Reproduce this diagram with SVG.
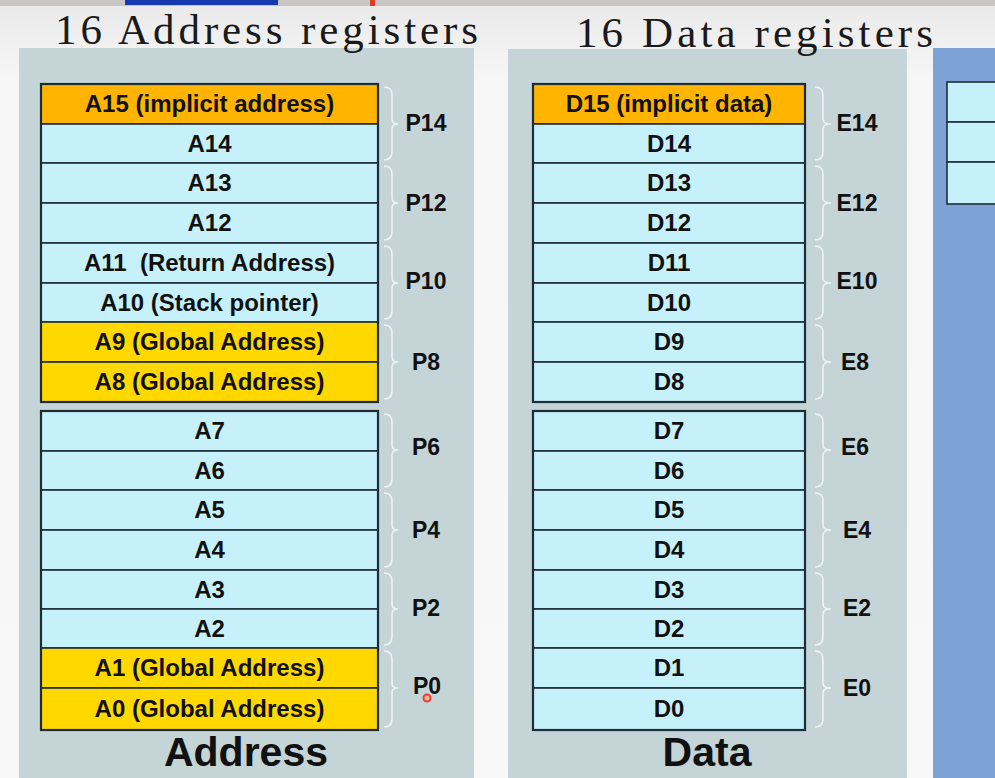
<svg xmlns="http://www.w3.org/2000/svg" width="995" height="778" viewBox="0 0 995 778">
<defs>
<linearGradient id="bg" x1="0" y1="0" x2="0" y2="1">
<stop offset="0" stop-color="#e9e9e9"/>
<stop offset="0.1" stop-color="#f6f6f6"/>
<stop offset="1" stop-color="#f8f8f8"/>
</linearGradient>
</defs>
<style>
.panel{fill:#c4d4d7}
.blue{fill:#7ea2d6}
.cy{fill:#c6f1fb;stroke:#1d2d36;stroke-width:1.6}
.or{fill:#ffb400;stroke:#1d2d36;stroke-width:1.6}
.ye{fill:#ffd800;stroke:#1d2d36;stroke-width:1.6}
.grp{fill:none;stroke:#1d2d36;stroke-width:2.2}
.lbl{font-family:"Liberation Sans",Arial,sans-serif;font-weight:bold;font-size:24px;fill:#111;text-anchor:middle;white-space:pre}
.pl{font-family:"Liberation Sans",Arial,sans-serif;font-weight:bold;font-size:23px;fill:#111;text-anchor:middle}
.big{font-family:"Liberation Sans",Arial,sans-serif;font-weight:bold;font-size:41px;fill:#111;text-anchor:middle}
.ttl{font-family:"Liberation Serif","Times New Roman",serif;font-size:43px;fill:#1a1a1a}
.br{fill:none;stroke:#eef3f4;stroke-width:1.6}
</style>
<rect x="0" y="0" width="995" height="778" fill="url(#bg)"/>
<rect x="0" y="0" width="995" height="6" fill="#c9c6c6"/>
<rect x="125" y="0" width="153" height="5" fill="#1838b0"/>
<rect x="370" y="0" width="5" height="6" fill="#e03a20"/>

<rect class="panel" x="19" y="48" width="455" height="730"/>
<rect class="panel" x="508" y="49" width="399" height="729"/>
<rect class="blue" x="933" y="48" width="62" height="730"/>

<text class="ttl" x="55" y="44" textLength="423" lengthAdjust="spacing">16 Address registers</text>
<text class="ttl" x="576" y="47" textLength="357" lengthAdjust="spacing">16 Data registers</text>

<g id="extra-regs">
<rect class="cy" x="947" y="82" width="60" height="40"/>
<rect class="cy" x="947" y="122" width="60" height="40"/>
<rect class="cy" x="947" y="162" width="60" height="42"/>
</g>

<g id="address">
<g id="A15"><rect class="or" x="41" y="84" width="337" height="40"/><text class="lbl" x="209.5" y="112">A15 (implicit address)</text></g>
<g id="A14"><rect class="cy" x="41" y="124" width="337" height="39"/><text class="lbl" x="209.5" y="152">A14</text></g>
<g id="A13"><rect class="cy" x="41" y="163" width="337" height="40"/><text class="lbl" x="209.5" y="191">A13</text></g>
<g id="A12"><rect class="cy" x="41" y="203" width="337" height="40"/><text class="lbl" x="209.5" y="231">A12</text></g>
<g id="A11"><rect class="cy" x="41" y="243" width="337" height="40"/><text class="lbl" x="209.5" y="271">A11  (Return Address)</text></g>
<g id="A10"><rect class="cy" x="41" y="283" width="337" height="39"/><text class="lbl" x="209.5" y="311">A10 (Stack pointer)</text></g>
<g id="A9"><rect class="ye" x="41" y="322" width="337" height="40"/><text class="lbl" x="209.5" y="350">A9 (Global Address)</text></g>
<g id="A8"><rect class="ye" x="41" y="362" width="337" height="40"/><text class="lbl" x="209.5" y="390">A8 (Global Address)</text></g>
<rect class="grp" x="41" y="84" width="337" height="318"/>
<g id="A7"><rect class="cy" x="41" y="411" width="337" height="40"/><text class="lbl" x="209.5" y="439">A7</text></g>
<g id="A6"><rect class="cy" x="41" y="451" width="337" height="39"/><text class="lbl" x="209.5" y="479">A6</text></g>
<g id="A5"><rect class="cy" x="41" y="490" width="337" height="40"/><text class="lbl" x="209.5" y="518">A5</text></g>
<g id="A4"><rect class="cy" x="41" y="530" width="337" height="40"/><text class="lbl" x="209.5" y="558">A4</text></g>
<g id="A3"><rect class="cy" x="41" y="570" width="337" height="39"/><text class="lbl" x="209.5" y="598">A3</text></g>
<g id="A2"><rect class="cy" x="41" y="609" width="337" height="39"/><text class="lbl" x="209.5" y="637">A2</text></g>
<g id="A1"><rect class="ye" x="41" y="648" width="337" height="40"/><text class="lbl" x="209.5" y="676">A1 (Global Address)</text></g>
<g id="A0"><rect class="ye" x="41" y="688" width="337" height="42"/><text class="lbl" x="209.5" y="717">A0 (Global Address)</text></g>
<rect class="grp" x="41" y="411" width="337" height="319"/>
<text class="big" x="246" y="766">Address</text>
</g>

<g id="data">
<g id="D15"><rect class="or" x="533" y="84" width="272" height="40"/><text class="lbl" x="669" y="112">D15 (implicit data)</text></g>
<g id="D14"><rect class="cy" x="533" y="124" width="272" height="39"/><text class="lbl" x="669" y="152">D14</text></g>
<g id="D13"><rect class="cy" x="533" y="163" width="272" height="40"/><text class="lbl" x="669" y="191">D13</text></g>
<g id="D12"><rect class="cy" x="533" y="203" width="272" height="40"/><text class="lbl" x="669" y="231">D12</text></g>
<g id="D11"><rect class="cy" x="533" y="243" width="272" height="40"/><text class="lbl" x="669" y="271">D11</text></g>
<g id="D10"><rect class="cy" x="533" y="283" width="272" height="39"/><text class="lbl" x="669" y="311">D10</text></g>
<g id="D9"><rect class="cy" x="533" y="322" width="272" height="40"/><text class="lbl" x="669" y="350">D9</text></g>
<g id="D8"><rect class="cy" x="533" y="362" width="272" height="40"/><text class="lbl" x="669" y="390">D8</text></g>
<rect class="grp" x="533" y="84" width="272" height="318"/>
<g id="D7"><rect class="cy" x="533" y="411" width="272" height="40"/><text class="lbl" x="669" y="439">D7</text></g>
<g id="D6"><rect class="cy" x="533" y="451" width="272" height="39"/><text class="lbl" x="669" y="479">D6</text></g>
<g id="D5"><rect class="cy" x="533" y="490" width="272" height="40"/><text class="lbl" x="669" y="518">D5</text></g>
<g id="D4"><rect class="cy" x="533" y="530" width="272" height="40"/><text class="lbl" x="669" y="558">D4</text></g>
<g id="D3"><rect class="cy" x="533" y="570" width="272" height="39"/><text class="lbl" x="669" y="598">D3</text></g>
<g id="D2"><rect class="cy" x="533" y="609" width="272" height="39"/><text class="lbl" x="669" y="637">D2</text></g>
<g id="D1"><rect class="cy" x="533" y="648" width="272" height="40"/><text class="lbl" x="669" y="676">D1</text></g>
<g id="D0"><rect class="cy" x="533" y="688" width="272" height="42"/><text class="lbl" x="669" y="717">D0</text></g>
<rect class="grp" x="533" y="411" width="272" height="319"/>
<text class="big" x="707" y="766">Data</text>
</g>

<g id="connectors">
<path class="br" d="M384,87 Q392,87 392,95 L392,119 Q392,124 398,124 Q392,124 392,129 L392,152 Q392,160 384,160"/>
<path class="br" d="M384,166 Q392,166 392,174 L392,198 Q392,203 398,203 Q392,203 392,208 L392,232 Q392,240 384,240"/>
<path class="br" d="M384,246 Q392,246 392,254 L392,278 Q392,283 398,283 Q392,283 392,288 L392,311 Q392,319 384,319"/>
<path class="br" d="M384,325 Q392,325 392,333 L392,357 Q392,362 398,362 Q392,362 392,367 L392,391 Q392,399 384,399"/>
<path class="br" d="M384,414 Q392,414 392,422 L392,445 Q392,450 398,450 Q392,450 392,455 L392,479 Q392,487 384,487"/>
<path class="br" d="M384,493 Q392,493 392,501 L392,525 Q392,530 398,530 Q392,530 392,535 L392,559 Q392,567 384,567"/>
<path class="br" d="M384,573 Q392,573 392,581 L392,604 Q392,609 398,609 Q392,609 392,614 L392,637 Q392,645 384,645"/>
<path class="br" d="M384,651 Q392,651 392,659 L392,683 Q392,688 398,688 Q392,688 392,693 L392,719 Q392,727 384,727"/>

<path class="br" d="M815,87 Q823,87 823,95 L823,119 Q823,124 831,124 Q823,124 823,129 L823,152 Q823,160 815,160"/>
<path class="br" d="M815,166 Q823,166 823,174 L823,198 Q823,203 831,203 Q823,203 823,208 L823,232 Q823,240 815,240"/>
<path class="br" d="M815,246 Q823,246 823,254 L823,278 Q823,283 831,283 Q823,283 823,288 L823,311 Q823,319 815,319"/>
<path class="br" d="M815,325 Q823,325 823,333 L823,357 Q823,362 831,362 Q823,362 823,367 L823,391 Q823,399 815,399"/>
<path class="br" d="M815,414 Q823,414 823,422 L823,445 Q823,450 831,450 Q823,450 823,455 L823,479 Q823,487 815,487"/>
<path class="br" d="M815,493 Q823,493 823,501 L823,525 Q823,530 831,530 Q823,530 823,535 L823,559 Q823,567 815,567"/>
<path class="br" d="M815,573 Q823,573 823,581 L823,604 Q823,609 831,609 Q823,609 823,614 L823,637 Q823,645 815,645"/>
<path class="br" d="M815,651 Q823,651 823,659 L823,683 Q823,688 831,688 Q823,688 823,693 L823,719 Q823,727 815,727"/>
</g>

<g id="pair-labels">
<text class="pl" x="426" y="131">P14</text>
<text class="pl" x="426" y="211">P12</text>
<text class="pl" x="426" y="289">P10</text>
<text class="pl" x="426" y="370">P8</text>
<text class="pl" x="426" y="455">P6</text>
<text class="pl" x="426" y="538">P4</text>
<text class="pl" x="426" y="616">P2</text>
<text class="pl" x="427" y="694">P0</text>
<text class="pl" x="857" y="131">E14</text>
<text class="pl" x="857" y="211">E12</text>
<text class="pl" x="857" y="289">E10</text>
<text class="pl" x="855" y="370">E8</text>
<text class="pl" x="855" y="455">E6</text>
<text class="pl" x="857" y="538">E4</text>
<text class="pl" x="857" y="616">E2</text>
<text class="pl" x="857" y="696">E0</text>
</g>
<circle cx="427" cy="698" r="3.5" fill="#ffb0a0" stroke="#e8402a" stroke-width="2"/>
</svg>
